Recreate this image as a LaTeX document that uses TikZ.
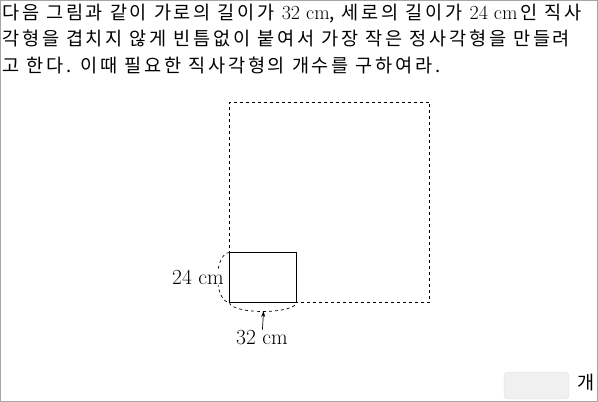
\documentclass[tikz,border=0pt]{standalone}
\usepackage{fontspec}
\newfontfamily\kor[LetterSpace=15]{Noto Sans CJK KR}
\usetikzlibrary{arrows.meta}
\newcommand\cmlen[1]{{\normalfont\fontsize{20}{22}\selectfont #1 cm}}
\tikzset{
  textline/.style={anchor=base west, inner sep=0pt, font=\kor\fontsize{18.6}{22}\selectfont},
  dimlabel/.style={font=\fontsize{21.5}{24}\selectfont, fill=white, inner sep=1pt},
}

\begin{document}
\begin{tikzpicture}[x=1pt, y=1pt]
  \useasboundingbox (0,0) rectangle (598,402);
  \draw [gray!70] (0.5,0.5) rectangle (597.5,401.5);

  \node [textline] (line1) at (2,382) {다음 그림과 같이 가로의 길이가 \cmlen{32}, 세로의 길이가 \cmlen{24}\,인 직사};
  \node [textline] (line2) at (2,356) {각형을 겹치지 않게 빈틈없이 붙여서 가장 작은 정사각형을 만들려};
  \node [textline] (line3) at (2,329) {고 한다. 이때 필요한 직사각형의 개수를 구하여라.};

  \draw [dashed, line width=0.8pt] (229.5,99.5) rectangle (429.5,299.5);
  \draw [line width=1.5pt] (229.5,99.5) rectangle (296.5,149.5);

  \draw [dashed, line width=0.7pt] (229.5,149.5) arc [start angle=90, end angle=270, x radius=12, y radius=25];
  \draw [dashed, line width=0.7pt] (229.5,99.5) arc [start angle=180, end angle=360, x radius=33.5, y radius=9];

  \node [dimlabel] (height) at (198,125) {24 cm};
  \node [dimlabel] (width) at (262,64) {32 cm};
  \coordinate (arcbottom) at (263.5,91);
  \draw [-{Stealth[length=6pt, width=4pt]}, line width=0.7pt] (width) -- (arcbottom);

  \draw [rounded corners=4pt, draw=gray!25, fill=gray!12] (504,3) rectangle (569,30);
  \node [font=\kor\fontsize{18.6}{22}\selectfont, inner sep=0pt] (unit) at (586,19) {개};
\end{tikzpicture}
\end{document}
